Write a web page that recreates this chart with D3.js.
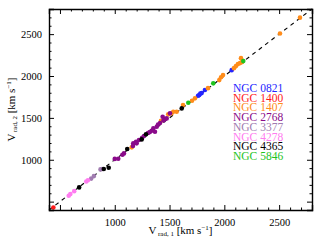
<!DOCTYPE html>
<html>
<head>
<meta charset="utf-8">
<script src="https://cdn.jsdelivr.net/npm/d3@7"></script>
<style>
  body { margin: 0; background: #fff; }
  svg text { font-family: "Liberation Serif", "DejaVu Serif", serif; }
</style>
</head>
<body>
<div class="box"></div>
<script>
// galaxy names and colours
const galaxies = ["NGC 0821", "NGC 1400", "NGC 1407", "NGC 2768", "NGC 3377", "NGC 4278", "NGC 4365", "NGC 5846"];
const colors = ["#2424ff", "#ff1a1a", "#ff8c1a", "#8a0a8a", "#a07cb0", "#ff7cf0", "#000000", "#1ec41e"];

// [v_rad1, v_rad2] pairs per galaxy
const ngc0821 = [[1771, 1772], [1793, 1796], [1823, 1832], [1760, 1765], [2067, 2070], [1781, 1790]];
const ngc1400 = [[440, 430]];
const ngc1407 = [[1155, 1148], [1422, 1465], [1488, 1542], [1519, 1554], [1565, 1573], [1534, 1573],
  [1623, 1653], [1705, 1705], [1732, 1733], [1851, 1855], [1954, 1951], [1988, 2011], [1970, 1985],
  [2088, 2094], [2106, 2118], [2124, 2142], [2143, 2154], [2161, 2166], [2152, 2213], [2508, 2508], [2690, 2697]];
const ngc2768 = [[1084, 1076], [1000, 1010], [1032, 1012], [1070, 1060], [1169, 1196], [1194, 1215], [1221, 1235],
  [1267, 1283], [1303, 1319], [1337, 1346], [1352, 1375], [1367, 1334], [1383, 1394], [1413, 1438],
  [1437, 1513], [1458, 1486], [1474, 1494], [1504, 1554], [1200, 1196], [1166, 1164], [1320, 1330],
  [1395, 1420], [1445, 1470], [1250, 1262]];
const ngc3377 = [[785, 775], [810, 805], [870, 885], [885, 890]];
const ngc4278 = [[580, 570], [595, 590], [630, 625], [740, 740], [755, 755]];
const ngc4365 = [[675, 670], [900, 890], [945, 905], [1114, 1128], [1246, 1243], [1285, 1303], [1611, 1613]];
const ngc5846 = [[1671, 1680], [1899, 1912], [2173, 2178]];
const seriesData = [ngc0821, ngc1400, ngc1407, ngc2768, ngc3377, ngc4278, ngc4365, ngc5846];

const majorTicks = [1000, 1500, 2000, 2500];
const axisMin = 400, axisMax = 2800;

const W = 320, H = 241;
const margin = { top: 9, right: 8, bottom: 31, left: 49 };
const width = W - margin.left - margin.right, height = H - margin.top - margin.bottom;

const svg = d3.select(".box").append("svg").attr("width", W).attr("height", H)
  .append("g").attr("transform", "translate(" + margin.left + "," + margin.top + ")");

const x = d3.scaleLinear().domain([axisMin, axisMax]).range([0, width]);
const y = d3.scaleLinear().domain([axisMin, axisMax]).range([height, 0]);
const minorTicks = d3.range(500, axisMax + 1, 100).filter(d => d % 500 !== 0);
const majorAll = d3.range(500, axisMax + 1, 500);

// 1:1 line
svg.append("line")
  .attr("x1", x(axisMin)).attr("y1", y(axisMin)).attr("x2", x(axisMax)).attr("y2", y(axisMax))
  .attr("stroke", "#000").attr("stroke-width", 1.1).attr("stroke-dasharray", "4,4");

// points
seriesData.forEach(function (pts, i) {
  svg.append("g").selectAll("circle").data(pts).enter().append("circle")
    .attr("cx", d => x(d[0])).attr("cy", d => y(d[1])).attr("r", 2.3)
    .attr("fill", colors[i]);
});

// axes: inward ticks on all sides
function styleAxis(g) {
  g.select(".domain").attr("stroke-width", 1.4);
  g.selectAll(".tick line").attr("stroke-width", 1);
  g.selectAll("text").attr("font-size", 10.5).attr("fill", "#000");
}
svg.append("g").attr("transform", "translate(0," + height + ")")
  .call(d3.axisBottom(x).tickValues(majorAll).tickSize(-5).tickPadding(9).tickFormat(d => majorTicks.includes(d) ? d : ""))
  .call(styleAxis);
svg.append("g").attr("transform", "translate(0," + height + ")")
  .call(d3.axisBottom(x).tickValues(minorTicks).tickSize(-2.5).tickFormat(""))
  .call(g => g.select(".domain").remove());
svg.append("g")
  .call(d3.axisTop(x).tickValues(majorAll).tickSize(-5).tickFormat(""))
  .call(styleAxis);
svg.append("g")
  .call(d3.axisTop(x).tickValues(minorTicks).tickSize(-2.5).tickFormat(""))
  .call(g => g.select(".domain").remove());
svg.append("g")
  .call(d3.axisLeft(y).tickValues(majorAll).tickSize(-5).tickPadding(7).tickFormat(d => majorTicks.includes(d) ? d : ""))
  .call(styleAxis);
svg.append("g")
  .call(d3.axisLeft(y).tickValues(minorTicks).tickSize(-2.5).tickFormat(""))
  .call(g => g.select(".domain").remove());
svg.append("g").attr("transform", "translate(" + width + ",0)")
  .call(d3.axisRight(y).tickValues(majorAll).tickSize(-5).tickFormat(""))
  .call(styleAxis);
svg.append("g").attr("transform", "translate(" + width + ",0)")
  .call(d3.axisRight(y).tickValues(minorTicks).tickSize(-2.5).tickFormat(""))
  .call(g => g.select(".domain").remove());
svg.selectAll(".tick line").attr("stroke", "#000");
svg.selectAll(".domain").attr("stroke", "#000");

// axis titles
function axisTitle(t, idx) {
  t.append("tspan").text("V");
  t.append("tspan").attr("font-size", 7).attr("dy", 2).attr("dx", 1.5).text("rad, " + idx);
  t.append("tspan").attr("dy", -2).text(" [km s");
  t.append("tspan").attr("font-size", 7).attr("dy", -4).text("\u22121");
  t.append("tspan").attr("dy", 4).text("]");
}
const xt = svg.append("text").attr("x", width / 2).attr("y", height + 24)
  .attr("text-anchor", "middle").attr("font-size", 11);
axisTitle(xt, 1);
const yt = svg.append("text").attr("transform", "translate(-34," + (height / 2) + ") rotate(-90)")
  .attr("text-anchor", "middle").attr("font-size", 11);
axisTitle(yt, 2);

// legend
svg.selectAll(".legend").data(galaxies).enter().append("text")
  .attr("x", 184).attr("y", (d, i) => 83 + i * 9.7)
  .attr("font-size", 11.5).attr("fill", (d, i) => colors[i])
  .text(d => d);
</script>
</body>
</html>
